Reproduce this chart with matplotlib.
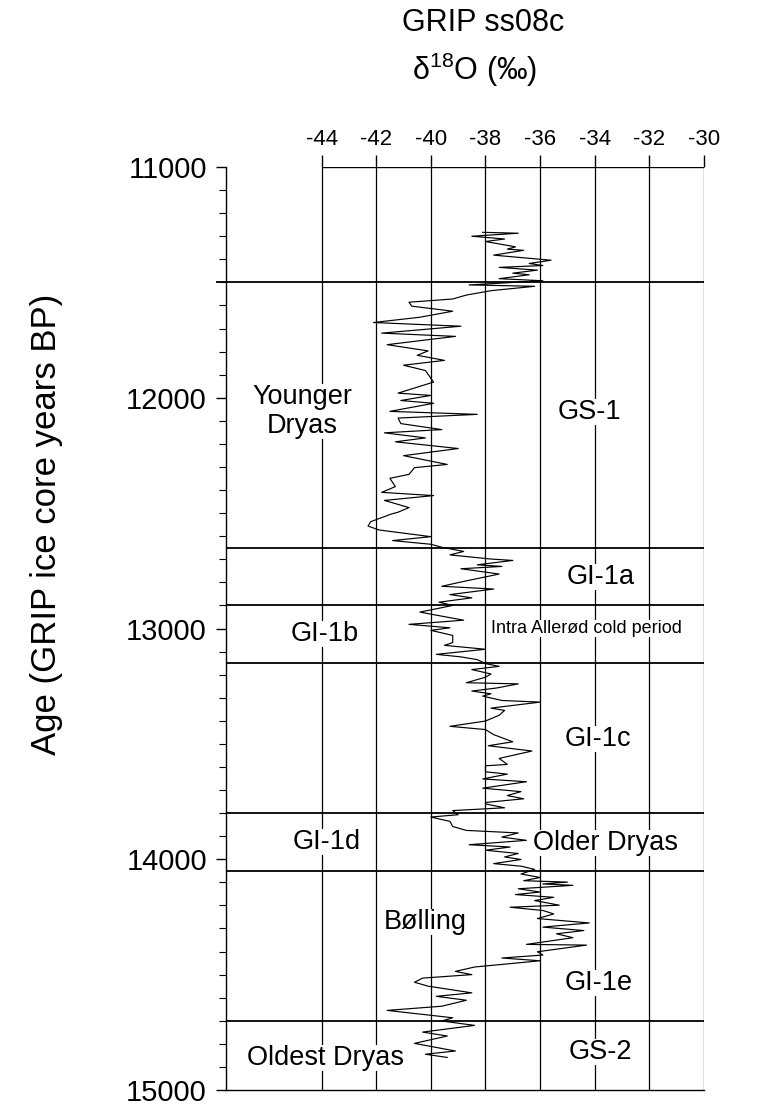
import matplotlib
matplotlib.use("Agg")
import matplotlib.pyplot as plt
from matplotlib.ticker import MultipleLocator, FormatStrFormatter

plt.rcParams['font.family'] = ['Liberation Sans', 'DejaVu Sans']
plt.rcParams['mathtext.fontset'] = 'custom'
plt.rcParams['mathtext.rm'] = 'Liberation Sans'
plt.rcParams['mathtext.it'] = 'Liberation Sans:italic'
plt.rcParams['axes.unicode_minus'] = False

# ---- data ----
age = [11283, 11287, 11300, 11312, 11323, 11346, 11356, 11361, 11382, 11404,
       11418, 11427, 11435, 11447, 11460, 11467, 11484, 11493, 11511, 11517,
       11536, 11555, 11572, 11586, 11603, 11625, 11651, 11674, 11690, 11720,
       11734, 11770, 11797, 11816, 11838, 11859,
       11882, 11932, 11980, 11990, 12012, 12024, 12059, 12072, 12088, 12112,
       12138, 12152, 12174, 12191, 12220, 12251, 12289, 12303, 12332, 12349,
       12385, 12410, 12424, 12445, 12476, 12496,
       12504, 12537, 12556, 12573, 12602, 12619, 12635, 12648, 12666, 12681,
       12699, 12705, 12724, 12731, 12741, 12764, 12796, 12817, 12829, 12853,
       12867, 12886, 12900, 12929, 12964, 12982, 12997, 13008, 13030, 13061,
       13073, 13090, 13112, 13123,
       13135, 13152, 13164, 13178, 13197, 13211, 13235, 13240, 13258, 13271,
       13283, 13293, 13312, 13319, 13345, 13355, 13376, 13401, 13424, 13438,
       13460, 13491, 13508, 13531, 13563, 13589, 13595, 13621, 13631, 13652,
       13664, 13692, 13707, 13724, 13738, 13754,
       13760, 13777, 13789, 13807, 13817, 13836, 13858, 13875, 13879, 13886,
       13904, 13918, 13937, 13947, 13961, 13975, 13990, 14001, 14019, 14030,
       14044,
       14064, 14079, 14093, 14099, 14107, 14113, 14128, 14142, 14153, 14165,
       14179, 14199, 14208, 14222, 14237, 14257, 14276, 14294, 14309, 14323,
       14340, 14369, 14372, 14401, 14415, 14428, 14440, 14467, 14486, 14500,
       14515, 14533, 14550, 14579, 14594, 14611, 14637, 14655, 14687, 14701,
       14720, 14749, 14766, 14798, 14831, 14845, 14859]
d18o = [-38.1, -36.8, -38.5, -37.3, -38.0, -36.9, -37.2, -36.6, -37.7, -35.6,
        -36.4, -35.9, -37.5, -36.1, -37.0, -36.4, -37.5, -35.9, -38.6, -36.2,
        -37.8, -38.7, -39.2, -40.8, -40.7, -39.2, -40.4, -42.1, -38.9, -41.8,
        -39.1, -41.6, -40.1, -40.5, -39.5, -41.0,
        -40.2, -39.9, -41.2, -40.0, -41.1, -39.9, -41.5, -38.3, -41.2, -41.1,
        -39.6, -41.7, -40.2, -41.3, -39.0, -41.0, -39.4, -40.6, -40.8, -41.5,
        -41.3, -41.8, -39.9, -41.7, -40.8, -41.2,
        -41.45, -42.2, -42.3, -41.9, -40.0, -41.4, -40.0, -39.6, -38.8, -39.3,
        -37.8, -37.0, -38.3, -37.4, -38.9, -37.5, -38.8, -39.6, -37.7, -39.3,
        -38.5, -39.7, -39.2, -40.4, -38.8, -40.8, -39.3, -40.0, -39.2, -39.2,
        -39.5, -38.0, -39.8, -38.9,
        -38.3, -38.0, -37.5, -38.5, -37.8, -38.0, -38.7, -36.8, -37.6, -38.5,
        -37.8, -38.1, -37.4, -36.0, -37.8, -37.3, -37.5, -38.0, -39.3, -38.0,
        -37.7, -37.0, -37.9, -36.3, -37.5, -37.2, -38.0, -38.0, -37.2, -38.1,
        -36.5, -38.1, -36.7, -37.2, -36.6, -38.0,
        -38.0, -37.3, -39.2, -39.0, -40.0, -39.3, -39.2, -38.7, -38.0, -36.8,
        -37.4, -36.5, -38.6, -37.1, -38.0, -36.8, -37.3, -36.7, -37.7, -36.7,
        -36.2,
        -36.7, -36.0, -36.6, -35.0, -35.9, -34.8, -36.8, -36.0, -36.9, -35.5,
        -36.2, -35.3, -37.1, -35.9, -35.5, -36.1, -34.2, -35.9, -34.4, -35.4,
        -34.8, -36.5, -34.3, -36.1, -35.9, -37.4, -36.0, -38.4, -39.1, -38.5,
        -40.3, -40.6, -40.1, -38.5, -39.8, -38.7, -39.6, -41.6, -39.2, -39.6,
        -38.4, -40.3, -39.4, -40.6, -39.1, -40.2, -39.4]

xticks = [-44, -42, -40, -38, -36, -34, -32, -30]
boundaries = [11500, 12650, 12900, 13150, 13800, 14050, 14700]

label_text = ["Younger\nDryas", "GS-1", "GI-1a", "GI-1b", "Intra Allerød cold period",
              "GI-1c", "GI-1d", "Older Dryas", "Bølling", "GI-1e", "GS-2",
              "Oldest Dryas"]
label_x = [-44.7, -34.2, -33.8, -43.9, -34.3, -33.9, -43.8, -33.6, -40.2,
           -33.85, -33.8, -43.85]
label_y = [12060, 12060, 12775, 13025, 13000, 13480, 13925, 13930, 14270,
           14535, 14835, 14860]
label_size = [19.5, 19.5, 19.5, 19.5, 13, 19.5, 19.5, 19.5, 19.5, 19.5, 19.5, 19.5]
label_pad = [2, 2, 3, 10, 5, 3, 10, 10, 3, 3, 3, 3]

# ---- figure ----
fig = plt.figure(figsize=(7.84, 11.09), dpi=100)
ax = fig.add_axes([226 / 784, 19 / 1109, 478 / 784, 923 / 1109])
ax.set_xlim(-47.5, -30)
ax.set_ylim(15000, 11000)

for s in ('top', 'right'):
    ax.spines[s].set_visible(False)
ax.spines['left'].set_linewidth(1.0)
ax.spines['bottom'].set_linewidth(1.0)

ax.xaxis.tick_top()
ax.set_xticks(xticks)
ax.set_xticklabels([str(t) for t in xticks])
ax.tick_params(axis='x', which='both', direction='out', length=9, width=1.0,
               labelsize=16, pad=3.5)
ax.xaxis.set_tick_params(bottom=False)

ax.yaxis.set_major_locator(MultipleLocator(1000))
ax.yaxis.set_minor_locator(MultipleLocator(100))
ax.yaxis.set_major_formatter(FormatStrFormatter('%d'))
ax.tick_params(axis='y', which='major', direction='out', length=7.2, width=1.0,
               labelsize=21, pad=6.5)
ax.tick_params(axis='y', which='minor', direction='out', length=5, width=0.8)

# grid: vertical lines at the isotope ticks, top frame from -44 to -30
for xv in xticks:
    ax.axvline(xv, color='black', lw=0.9, zorder=1)
ax.hlines(11000, xticks[0], xticks[-1], color='black', lw=1.0, zorder=1)

# event boundaries
for i, b in enumerate(boundaries):
    x0 = -47.85 if i == 0 else -47.5
    ax.hlines(b, x0, -30, color='black', lw=1.3, zorder=3, clip_on=False)

# isotope curve
ax.plot(d18o, age, color='black', lw=0.85, zorder=4)

# labels
for t, x, y, fs, pd in zip(label_text, label_x, label_y, label_size, label_pad):
    ax.text(x, y, t, ha='center', va='center', fontsize=fs, zorder=2,
            linespacing=1.15,
            bbox=dict(boxstyle='square,pad=0', facecolor='white',
                      edgecolor='none', pad=pd))

fig.text(47 / 784, ax.transData.transform((0, 12550))[1] / fig.bbox.height,
         'Age (GRIP ice core years BP)', rotation=90,
         ha='center', va='center', fontsize=25)

fig.text(483 / 784, 1 - 23 / 1109, 'GRIP ss08c', ha='center', va='center',
         fontsize=22)
fig.text(475 / 784, 1 - 70 / 1109, r'δ$^{18}$O (‰)', ha='center', va='center',
         fontsize=22)

fig.savefig('out.png', dpi=100)
